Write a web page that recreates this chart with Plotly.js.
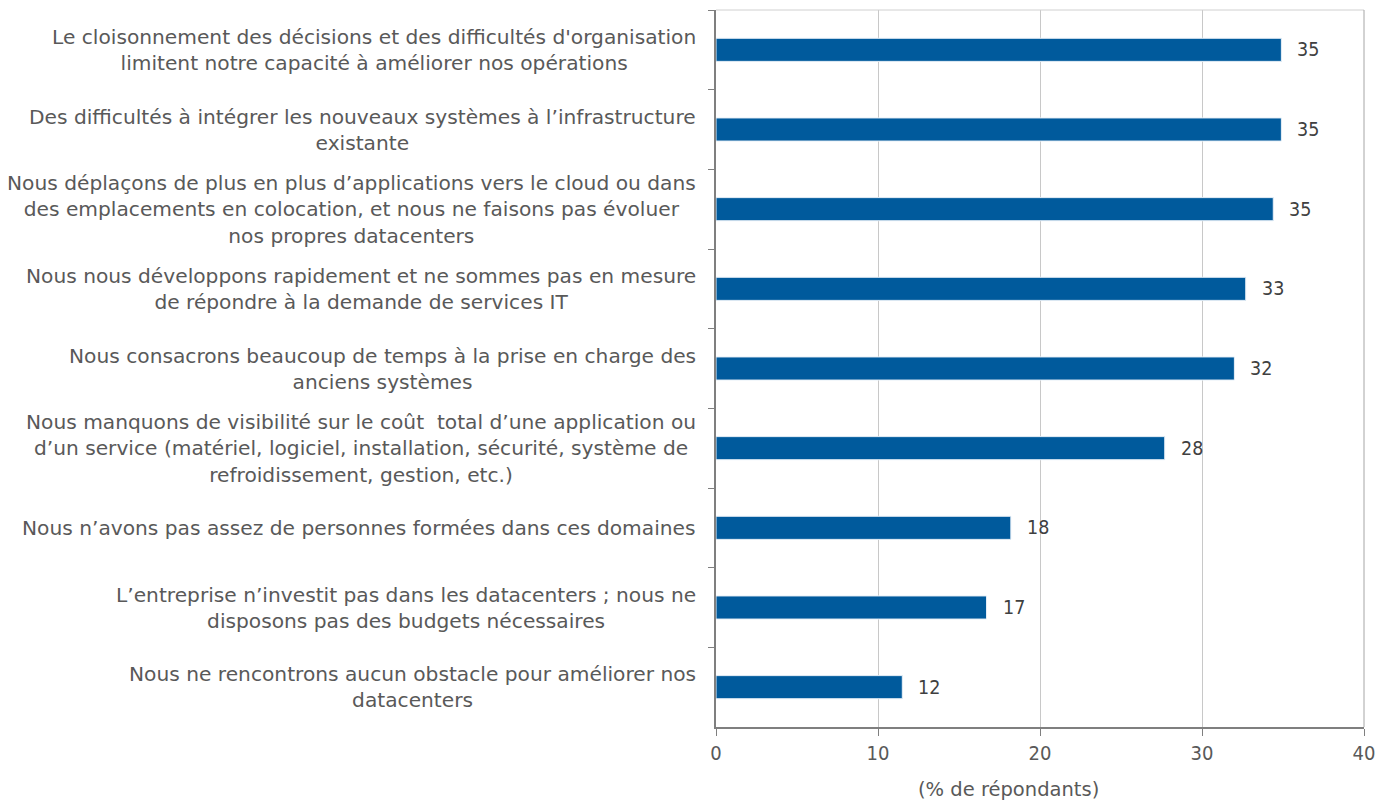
<!DOCTYPE html>
<html>
<head>
<meta charset="utf-8">
<script src="https://cdn.plot.ly/plotly-3.0.1.min.js"></script>
<style>html,body{margin:0;padding:0;background:#fff;}#chart{width:1392px;height:804px;}</style>
</head>
<body>
<div id="chart"></div>
<script>
const categories = [
  "Le cloisonnement des décisions et des difficultés d'organisation<br>limitent notre capacité à améliorer nos opérations",
  "Des difficultés à intégrer les nouveaux systèmes à l’infrastructure<br>existante",
  "Nous déplaçons de plus en plus d’applications vers le cloud ou dans<br>des emplacements en colocation, et nous ne faisons pas évoluer<br>nos propres datacenters",
  "Nous nous développons rapidement et ne sommes pas en mesure<br>de répondre à la demande de services IT",
  "Nous consacrons beaucoup de temps à la prise en charge des<br>anciens systèmes",
  "Nous manquons de visibilité sur le coût  total d’une application ou<br>d’un service (matériel, logiciel, installation, sécurité, système de<br>refroidissement, gestion, etc.)",
  "Nous n’avons pas assez de personnes formées dans ces domaines",
  "L’entreprise n’investit pas dans les datacenters ; nous ne<br>disposons pas des budgets nécessaires",
  "Nous ne rencontrons aucun obstacle pour améliorer nos<br>datacenters"
];
const values = [34.9, 34.9, 34.4, 32.7, 32.0, 27.7, 18.2, 16.7, 11.5];
const valueLabels = ["35", "35", "35", "33", "32", "28", "18", "17", "12"];
const xTicks = [0, 10, 20, 30, 40];
const xTitle = "(% de répondants)";

const FONT = "DejaVu Sans, Open Sans, sans-serif";
const FONT_C = "DejaVu Sans Condensed, DejaVu Sans, sans-serif";
const catIds = categories.map((c, i) => "c" + i);

const trace = {
  type: "bar",
  orientation: "h",
  x: values,
  y: catIds,
  marker: {color: "#005A9C", line: {color: "#e8f0f8", width: 1}},
  hoverinfo: "skip"
};

const annotations = [];
categories.forEach((c, i) => {
  annotations.push({
    xref: "paper", yref: "y", x: 0, y: catIds[i],
    xanchor: "right", yanchor: "middle", xshift: -18,
    text: c, showarrow: false, align: "center",
    font: {family: FONT, size: 20.2, color: "#595959"}
  });
  annotations.push({
    xref: "x", yref: "y", x: values[i], y: catIds[i],
    xanchor: "left", yanchor: "middle", xshift: 14,
    text: valueLabels[i], showarrow: false,
    font: {family: FONT_C, size: 19.5, color: "#404040"}
  });
});
annotations.push({
  xref: "paper", yref: "paper", x: 0.451, y: 0, yshift: -62,
  xanchor: "center", yanchor: "middle",
  text: xTitle, showarrow: false,
  font: {family: FONT, size: 19.5, color: "#595959"}
});

const layout = {
  width: 1392, height: 804,
  margin: {l: 716, r: 28, t: 10, b: 77},
  paper_bgcolor: "#fff", plot_bgcolor: "#fff",
  showlegend: false,
  bargap: 0.71,
  font: {family: FONT, size: 19, color: "#595959"},
  xaxis: {
    range: [0, 40], tickvals: xTicks, ticktext: xTicks.map(String),
    showgrid: true, gridcolor: "#c8c8c8", gridwidth: 1,
    showline: true, linecolor: "#7f7f7f", linewidth: 2,
    ticks: "outside", ticklen: 7, tickcolor: "#7f7f7f", tickwidth: 1,
    mirror: false, zeroline: false,
    tickfont: {family: FONT_C, size: 20, color: "#595959"}
  },
  yaxis: {
    type: "category", autorange: "reversed",
    showticklabels: false, tickson: "boundaries",
    ticks: "outside", ticklen: 6, tickcolor: "#7f7f7f",
    showline: true, linecolor: "#7f7f7f", linewidth: 2,
    showgrid: false, zeroline: false
  },
  shapes: [
    {type: "line", xref: "paper", yref: "paper", x0: 0, x1: 1, y0: 1, y1: 1, line: {color: "#d0d0d0", width: 1}},
    {type: "line", xref: "paper", yref: "paper", x0: 1, x1: 1, y0: 0, y1: 1, line: {color: "#a6a6a6", width: 1}}
  ],
  annotations: annotations
};

Plotly.newPlot("chart", [trace], layout, {displayModeBar: false, staticPlot: true});
</script>
</body>
</html>
